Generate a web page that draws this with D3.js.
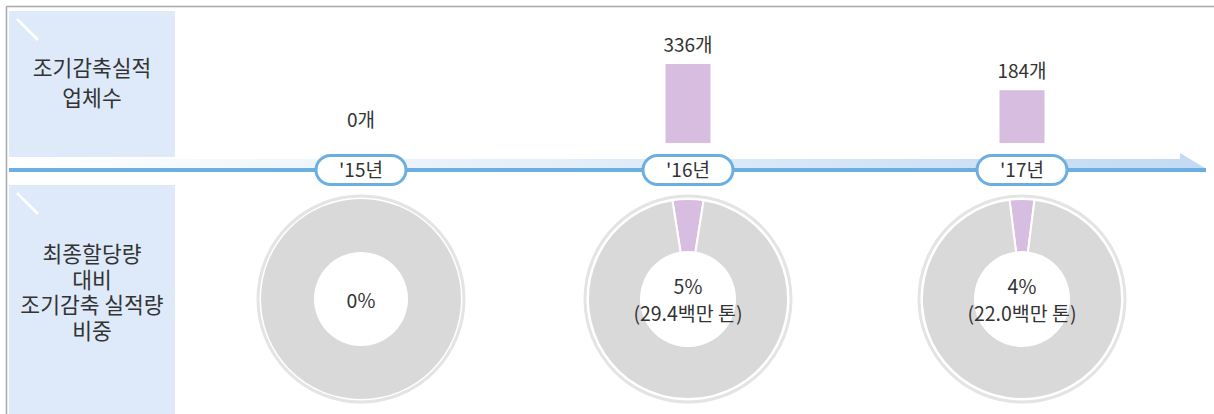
<!DOCTYPE html>
<html>
<head>
<meta charset="utf-8">
<script src="https://cdn.jsdelivr.net/npm/d3@7"></script>
<style>
  html, body { margin: 0; padding: 0; background: #fff; }
  svg { display: block; font-family: "Noto Sans CJK KR", "Noto Sans", sans-serif; }
  text { fill: #333; }
</style>
</head>
<body>
<div id="chart"></div>
<script>
// Data
const years = ["'15년", "'16년", "'17년"];
const firms = [0, 336, 184];          // 조기감축실적 업체수 (개)
const shares = [0, 5, 4];             // 최종할당량 대비 비중 (%)
const amounts = [null, '29.4', '22.0']; // 백만 톤
const rowLabels = [
  ['조기감축실적', '업체수'],
  ['최종할당량', '대비', '조기감축 실적량', '비중']
];

const width = 1214, height = 414;
const lineY = 170, barBase = 143, donutY = 299;

const svg = d3.select('#chart')
  .append('svg')
  .attr('width', width)
  .attr('height', height);

const defs = svg.append('defs');
const grad = defs.append('linearGradient')
  .attr('id', 'band')
  .attr('x1', '0%').attr('x2', '100%');
grad.append('stop').attr('offset', '0%').attr('stop-color', '#ffffff');
grad.append('stop').attr('offset', '100%').attr('stop-color', '#c2daf2');

// Scales
const x = d3.scaleOrdinal()
  .domain(years)
  .range([361, 688, 1022]);

const barH = d3.scalePow()
  .exponent(0.67)
  .domain([0, d3.max(firms)])
  .range([0, 79]);

// Frame lines
svg.append('line')
  .attr('x1', 6.5).attr('x2', width).attr('y1', 6.5).attr('y2', 6.5)
  .attr('stroke', '#a9a9a9').attr('stroke-width', 1.5);
svg.append('line')
  .attr('x1', 6.5).attr('x2', 6.5).attr('y1', 6.5).attr('y2', height)
  .attr('stroke', '#a9a9a9').attr('stroke-width', 1.5);

// Row header boxes
const boxes = [
  { y: 11, h: 146, lines: rowLabels[0], cy: 83, step: 30 },
  { y: 185, h: 229, lines: rowLabels[1], cy: 293, step: 25.5 }
];
boxes.forEach((b) => {
  svg.append('rect')
    .attr('x', 9).attr('y', b.y)
    .attr('width', 166).attr('height', b.h)
    .attr('fill', '#deeaf9');
  svg.append('line')
    .attr('x1', 17).attr('y1', b.y + 8)
    .attr('x2', 38).attr('y2', b.y + 29)
    .attr('stroke', '#fff').attr('stroke-width', 2.5);
  const t = svg.append('text')
    .attr('text-anchor', 'middle')
    .attr('font-size', 21.5);
  b.lines.forEach((s, i) => {
    t.append('tspan')
      .attr('x', 92)
      .attr('y', b.cy + (i - (b.lines.length - 1) / 2) * b.step)
      .attr('dy', '0.35em')
      .text(s);
  });
});

// Timeline arrow
svg.append('path')
  .attr('d', 'M9,159 L1180,159 L1180,153 L1205,168 L9,168 Z')
  .attr('fill', 'url(#band)');
svg.append('rect')
  .attr('x', 9).attr('y', 168)
  .attr('width', 1197).attr('height', 4)
  .attr('fill', '#6aaee2');

// Bars
svg.selectAll('rect.bar')
  .data(firms)
  .enter()
  .append('rect')
    .attr('class', 'bar')
    .attr('x', (d, i) => x(years[i]) - 22.5)
    .attr('y', (d) => barBase - barH(d))
    .attr('width', 45)
    .attr('height', (d) => barH(d))
    .attr('fill', '#d7bddf');

svg.selectAll('text.count')
  .data(firms)
  .enter()
  .append('text')
    .attr('class', 'count')
    .attr('text-anchor', 'middle')
    .attr('font-size', 19)
    .attr('x', (d, i) => x(years[i]))
    .attr('y', (d) => barBase - barH(d) - (d === 0 ? 16 : 12))
    .text((d) => d + '개');

// Year pills
const pills = svg.selectAll('g.pill')
  .data(years)
  .enter()
  .append('g')
    .attr('class', 'pill')
    .attr('transform', (d) => 'translate(' + x(d) + ',' + lineY + ')');
pills.append('rect')
  .attr('x', -45).attr('y', -14.5)
  .attr('width', 90).attr('height', 29)
  .attr('rx', 14.5)
  .attr('fill', '#fff')
  .attr('stroke', '#6aaee2')
  .attr('stroke-width', 3);
pills.append('text')
  .attr('text-anchor', 'middle')
  .attr('dy', '0.36em')
  .attr('font-size', 19)
  .text((d) => d);

// Donuts
const arc = d3.arc().innerRadius(47).outerRadius(100);

years.forEach((yr, i) => {
  const g = svg.append('g')
    .attr('transform', 'translate(' + x(yr) + ',' + donutY + ')');

  g.append('circle')
    .attr('r', 103)
    .attr('fill', 'none')
    .attr('stroke', '#e4e4e4')
    .attr('stroke-width', 3);

  const a = shares[i] / 100 * 2 * Math.PI;
  const pie = d3.pie()
    .sort(null)
    .startAngle(-a / 2)
    .endAngle(2 * Math.PI - a / 2);
  const slices = pie([shares[i], 100 - shares[i]]).filter((d) => d.value > 0);

  g.selectAll('path')
    .data(slices)
    .enter()
    .append('path')
      .attr('d', arc)
      .attr('fill', (d) => d.index === 0 ? '#d7bddf' : '#d9d9d9')
      .attr('stroke', shares[i] > 0 ? '#fff' : 'none')
      .attr('stroke-width', 2);

  const lines = [shares[i] + '%'];
  if (amounts[i]) lines.push('(' + amounts[i] + '백만 톤)');
  const t = g.append('text')
    .attr('text-anchor', 'middle')
    .attr('font-size', 19.5);
  lines.forEach((s, j) => {
    t.append('tspan')
      .attr('x', 0)
      .attr('y', (j - (lines.length - 1) / 2) * 27 + 2)
      .attr('dy', '0.35em')
      .text(s);
  });
});
</script>
</body>
</html>
